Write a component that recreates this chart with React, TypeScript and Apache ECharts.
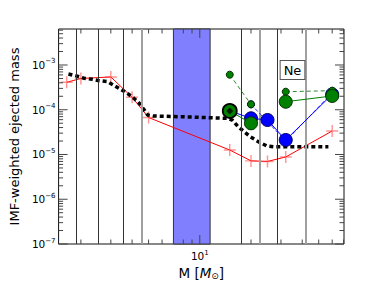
import React, { useEffect, useRef } from "react";
import * as echarts from "echarts";

// ---- data ----
const redMass = [1.65, 2, 3, 4, 5, 15, 20, 25, 32, 60];
const redValues = [4.1e-4, 5.0e-4, 5.4e-4, 1.9e-4, 6.7e-5, 1.26e-5, 7.2e-6, 7.0e-6, 8.8e-6, 3.35e-5];

const modelMass = [1.69, 1.88, 2.09, 2.33, 2.56, 2.86, 3.1, 3.4, 3.75, 4.06, 4.41, 4.72, 4.94, 5.33, 8.8, 14.5, 15.5, 16.8, 19.8, 22.1, 24.8, 27.1, 57];
const modelValues = [6.3e-4, 5.7e-4, 5.05e-4, 4.79e-4, 4.46e-4, 4.24e-4, 3.57e-4, 2.91e-4, 2.33e-4, 1.86e-4, 1.39e-4, 9.87e-5, 7.63e-5, 7.25e-5, 6.88e-5, 6.44e-5, 5.9e-5, 4.18e-5, 2.5e-5, 1.93e-5, 1.55e-5, 1.49e-5, 1.49e-5];

const starMass = [15, 20, 25, 32, 60];
const greenBig = [9.4e-5, 4.98e-5, null, 1.51e-4, 2.03e-4];
const greenSmall = [6.07e-4, 1.32e-4, null, 2.53e-4, 2.67e-4];
const blueBig = [9.4e-5, 6.44e-5, 5.9e-5, 2.11e-5, 2.21e-4];
const blueSmall = [null, 1.32e-4, 5.4e-5, 2.0e-5, 2.37e-4];

const blackCoreMass = [15];
const blackCoreValue = [9.4e-5];

const boundaryBlack = [1.88, 2.52, 3.54, 17.5, 28.5];
const boundaryGray = [4.54, 22.4, 42.0];
const bandRange = [7, 11.5];

const xMajorTicks = [10];
const xMinorTicks = [2, 3, 4, 5, 6, 7, 8, 9, 20, 30, 40, 50, 60, 70];
const yMajorTicks = [1e-7, 1e-6, 1e-5, 1e-4, 1e-3];
const yMinorFactors = [2, 3, 4, 5, 6, 7, 8, 9];
const yMinorDecades = [1e-7, 1e-6, 1e-5, 1e-4, 1e-3];

const elementLabel = "Ne";
const xName = "M";
const yName = "IMF-weighted ejected mass";

const X_MIN = 1.479;
const X_MAX = 70.4;
const Y_MIN = 1e-7;
const Y_MAX = 6.37e-3;

const FONT = "DejaVu Sans";

function pairs(xs: number[], ys: (number | null)[]) {
  return xs.map((x, i) => [x, ys[i] == null ? "-" : ys[i]]);
}

export default function App() {
  const ref = useRef<HTMLDivElement>(null);
  useEffect(() => {
    if (!ref.current) return;
    const chart = echarts.init(ref.current, null, { renderer: "svg" });

    const tickData: any[] = [];
    xMajorTicks.forEach((v) => tickData.push([v, 1e-5, 0, 9]));
    xMinorTicks.forEach((v) => tickData.push([v, 1e-5, 0, 4.5]));
    yMajorTicks.forEach((v) => tickData.push([10, v, 1, 9]));
    yMinorDecades.forEach((d) =>
      yMinorFactors.forEach((f) => {
        const v = d * f;
        if (v < Y_MAX) tickData.push([10, v, 1, 4.5]);
      })
    );

    const supFmt = (v: number) => {
      const e = Math.log10(v);
      const r = Math.round(e);
      if (Math.abs(e - r) > 1e-6) return "";
      const s = r < 0 ? "\u2212" + Math.abs(r) : String(r);
      return "{b|10}{s|" + s + "}";
    };

    const richLabel = {
      b: { fontSize: 10.5, fontFamily: FONT, color: "#000" },
      s: { fontSize: 7, fontFamily: FONT, color: "#000", padding: [0, 0, 7, 0] },
    };

    const option: any = {
      animation: false,
      backgroundColor: "#fff",
      grid: {
        left: 58,
        top: 29,
        width: 286,
        height: 215,
        show: true,
        borderColor: "#111",
        borderWidth: 1,
        backgroundColor: "transparent",
      },
      xAxis: {
        type: "log",
        logBase: 10,
        min: X_MIN,
        max: X_MAX,
        axisLine: { show: false },
        axisTick: { show: false },
        splitLine: { show: false },
        axisLabel: {
          formatter: supFmt,
          rich: richLabel,
          margin: 5,
          showMinLabel: false,
          showMaxLabel: false,
        },
        name: "{n|" + xName + " [}{i|M}{sub|\u2299}{n|]}",
        nameLocation: "middle",
        nameGap: 20,
        nameTextStyle: {
          rich: {
            n: { fontSize: 13.5, fontFamily: FONT, color: "#000" },
            i: { fontSize: 13.5, fontFamily: FONT, fontStyle: "italic", color: "#000" },
            sub: { fontSize: 9, fontFamily: FONT, color: "#000", padding: [6, 0, 0, 0] },
          },
        },
      },
      yAxis: {
        type: "log",
        logBase: 10,
        min: Y_MIN,
        max: Y_MAX,
        axisLine: { show: false },
        axisTick: { show: false },
        splitLine: { show: false },
        axisLabel: {
          formatter: supFmt,
          rich: richLabel,
          margin: 3,
          showMaxLabel: false,
        },
        name: yName,
        nameLocation: "middle",
        nameGap: 31,
        nameTextStyle: { fontSize: 13, fontFamily: FONT, color: "#000" },
      },
      graphic: [
        {
          type: "text",
          x: 292.5,
          y: 70,
          z: 100,
          style: {
            text: elementLabel,
            font: "13px " + FONT,
            fill: "#000",
            align: "center",
            verticalAlign: "middle",
            backgroundColor: "#fff",
            borderColor: "#555",
            borderWidth: 1,
            padding: [3, 3, 2, 3],
          },
        },
      ],
      series: [
        {
          type: "line",
          data: [],
          silent: true,
          z: 1,
          markArea: {
            silent: true,
            itemStyle: { color: "#8080ff", borderColor: "#333", borderWidth: 1 },
            data: [[{ xAxis: bandRange[0] }, { xAxis: bandRange[1] }]],
          },
          markLine: {
            silent: true,
            symbol: "none",
            label: { show: false },
            data: [
              ...boundaryBlack.map((m) => ({ xAxis: m, lineStyle: { color: "#333", width: 1, type: "solid" } })),
              ...boundaryGray.map((m) => ({ xAxis: m, lineStyle: { color: "#a0a0a0", width: 2, type: "solid" } })),
            ],
          },
        },
        {
          type: "line",
          data: pairs(redMass, redValues),
          z: 3,
          symbol: "path://M0,4.4h10v1.2h-10z M4.4,0h1.2v10h-1.2z",
          symbolSize: 12,
          itemStyle: { color: "rgba(255,60,60,0.55)" },
          lineStyle: { color: "#ff0000", width: 1 },
        },
        {
          type: "line",
          data: pairs(modelMass, modelValues),
          z: 4,
          symbol: "none",
          lineStyle: { color: "#000", width: 3.5, type: [4, 3], cap: "butt" },
        },
        {
          type: "line",
          data: pairs(starMass, blueSmall),
          z: 5,
          symbol: "circle",
          symbolSize: 7,
          itemStyle: { color: "#0000ff", borderColor: "#000060", borderWidth: 1 },
          lineStyle: { color: "#3030ff", width: 1, type: [4, 2] },
        },
        {
          type: "line",
          data: pairs(starMass, blueBig),
          z: 5,
          symbol: "circle",
          symbolSize: 13,
          itemStyle: { color: "#0000ff", borderColor: "#000060", borderWidth: 1 },
          lineStyle: { color: "#0000ff", width: 1 },
        },
        {
          type: "line",
          data: pairs(starMass, greenSmall),
          z: 6,
          symbol: "circle",
          symbolSize: 7,
          itemStyle: { color: "#008000", borderColor: "#003000", borderWidth: 1 },
          lineStyle: { color: "#2e8b2e", width: 1, type: [4, 3] },
        },
        {
          type: "line",
          data: pairs(starMass, greenBig).map((d, i) =>
            i === 0
              ? { value: d, symbolSize: 14, itemStyle: { color: "#008000", borderColor: "#000", borderWidth: 1.8 } }
              : d
          ),
          z: 6,
          symbol: "circle",
          symbolSize: 13,
          itemStyle: { color: "#008000", borderColor: "#003000", borderWidth: 1 },
          lineStyle: { color: "#008000", width: 1 },
        },
        {
          type: "scatter",
          data: pairs(blackCoreMass, blackCoreValue),
          z: 7,
          symbol: "diamond",
          symbolSize: 7,
          itemStyle: { color: "#000" },
        },
        {
          type: "custom",
          z: 8,
          silent: true,
          data: tickData,
          encode: { x: 0, y: 1 },
          clip: false,
          renderItem: (params: any, api: any) => {
            const cs = params.coordSys;
            const kind = api.value(2);
            const len = api.value(3);
            const style = { stroke: "#444", lineWidth: 1 };
            if (kind === 0) {
              const px = api.coord([api.value(0), api.value(1)])[0];
              return {
                type: "group",
                children: [
                  { type: "line", shape: { x1: px, y1: cs.y + cs.height, x2: px, y2: cs.y + cs.height - len }, style },
                  { type: "line", shape: { x1: px, y1: cs.y, x2: px, y2: cs.y + len }, style },
                ],
              };
            }
            const py = api.coord([api.value(0), api.value(1)])[1];
            return {
              type: "group",
              children: [
                { type: "line", shape: { x1: cs.x, y1: py, x2: cs.x + len, y2: py }, style },
                { type: "line", shape: { x1: cs.x + cs.width, y1: py, x2: cs.x + cs.width - len, y2: py }, style },
              ],
            };
          },
        },
      ],
    };

    chart.setOption(option);
    return () => chart.dispose();
  }, []);

  return <div ref={ref} style={{ width: 382, height: 288, position: "absolute", left: 0, top: 0 }} />;
}
